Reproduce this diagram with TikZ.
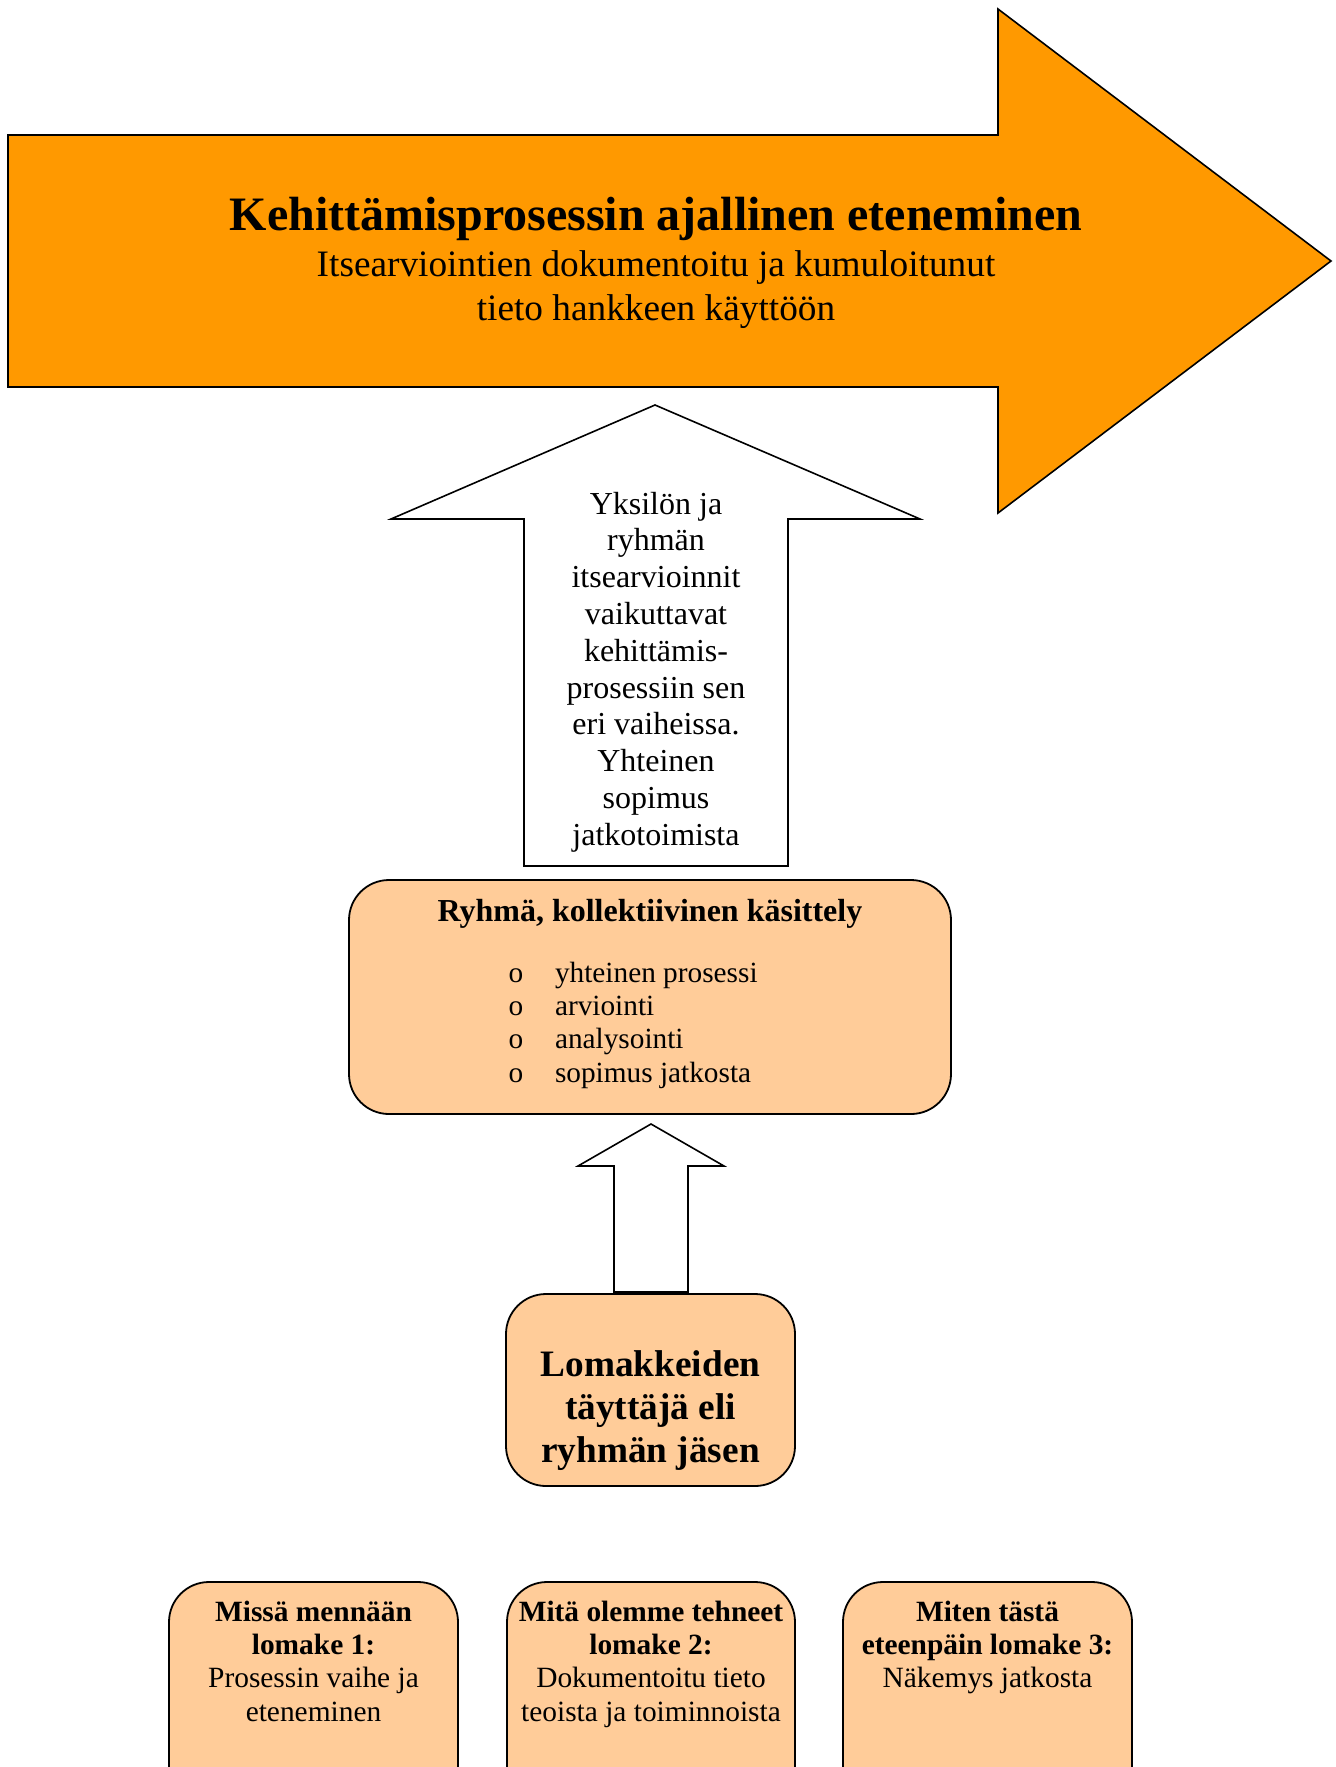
\documentclass[tikz,border=0pt]{standalone}
\usepackage{fontspec}
\setmainfont{Liberation Serif}
\definecolor{arroworange}{RGB}{255,153,0}
\definecolor{cardorange}{RGB}{255,204,153}

\begin{document}
\begin{tikzpicture}[x=0.5pt,y=-0.5pt,
  every node/.style={inner sep=0pt, outer sep=0pt},
  txt/.style={anchor=base},
  blockarrow/.style={draw=black, line width=0.8pt, line join=miter},
  card/.style={draw=black, line width=0.9pt, fill=cardorange, rounded corners=20pt},
  headfont/.style={font=\fontsize{24}{28}\selectfont\bfseries},
  subfont/.style={font=\fontsize{18.65}{22}\selectfont},
  upfont/.style={font=\fontsize{16}{18.4}\selectfont},
  groupfont/.style={font=\fontsize{16}{18.4}\selectfont\bfseries},
  listfont/.style={font=\fontsize{14.65}{16.7}\selectfont},
  memberfont/.style={font=\fontsize{18.65}{21.5}\selectfont\bfseries},
  formbold/.style={font=\fontsize{14.7}{16.8}\selectfont\bfseries},
  formtext/.style={font=\fontsize{14.7}{16.8}\selectfont},
]
\useasboundingbox (0,0) rectangle (1335,1767);
\clip (0,0) rectangle (1335,1767);

% time line arrow across the top
\draw[blockarrow, fill=arroworange]
  (8,135) -- (998,135) -- (998,9) -- (1331,261) -- (998,513) -- (998,387) -- (8,387) -- cycle;
\node[txt, headfont] (head) at (656,230) {Kehittämisprosessin ajallinen eteneminen};
\node[txt, subfont] (sub1) at (656,276) {Itsearviointien dokumentoitu ja kumuloitunut};
\node[txt, subfont] (sub2) at (656,320) {tieto hankkeen käyttöön};

% group box and filler box
\node[card, minimum width=301pt, minimum height=117pt] (group) at (650,997) {};
\node[card, minimum width=144.5pt, minimum height=96pt] (member) at (650.5,1390) {};

% large upward arrow from the group box
\draw[blockarrow, fill=white]
  (524,866) -- (524,519) -- (391,519) -- (655,405) -- (920,519) -- (788,519) -- (788,866) -- cycle;
\foreach \t [count=\i] in {Yksilön ja, ryhmän, itsearvioinnit, vaikuttavat, kehittämis-,
    prosessiin sen, eri vaiheissa., Yhteinen, sopimus, jatkotoimista}
  \node[txt, upfont] (up\i) at (656,{514+36.8*(\i-1)}) {\t};

% small upward arrow from the filler to the group
\draw[blockarrow, fill=white]
  (614,1292) -- (614,1166) -- (578,1166) -- (651,1124) -- (724,1166) -- (688,1166) -- (688,1292) -- cycle;

% group box contents
\node[txt, groupfont] (grouptitle) at (650,921) {Ryhmä, kollektiivinen käsittely};
\foreach \t [count=\i] in {yhteinen prosessi, arviointi, analysointi, sopimus jatkosta} {
  \node[txt, listfont] (dot\i) at (516,{982+33.4*(\i-1)}) {o};
  \node[txt, listfont, anchor=base west] (item\i) at (555,{982+33.4*(\i-1)}) {\t};
}

% filler box contents
\node[txt, memberfont] (mem1) at (650.5,1376) {Lomakkeiden};
\node[txt, memberfont] (mem2) at (650.5,1419) {täyttäjä eli};
\node[txt, memberfont] (mem3) at (650.5,1462) {ryhmän jäsen};

% the three forms
\node[card, minimum width=144.5pt, minimum height=120pt] (form1) at (313.5,1702) {};
\node[card, minimum width=144pt, minimum height=120pt] (form2) at (651,1702) {};
\node[card, minimum width=144.5pt, minimum height=120pt] (form3) at (987.5,1702) {};

\node[txt, formbold] (f1a) at (313.5,1621) {Missä mennään};
\node[txt, formbold] (f1b) at (313.5,1654) {lomake 1:};
\node[txt, formtext] (f1c) at (313.5,1687) {Prosessin vaihe ja};
\node[txt, formtext] (f1d) at (313.5,1721) {eteneminen};

\node[txt, formbold] (f2a) at (651,1621) {Mitä olemme tehneet};
\node[txt, formbold] (f2b) at (651,1654) {lomake 2:};
\node[txt, formtext] (f2c) at (651,1687) {Dokumentoitu tieto};
\node[txt, formtext] (f2d) at (651,1721) {teoista ja toiminnoista};

\node[txt, formbold] (f3a) at (987.5,1621) {Miten tästä};
\node[txt, formbold] (f3b) at (987.5,1654) {eteenpäin lomake 3:};
\node[txt, formtext] (f3c) at (987.5,1687) {Näkemys jatkosta};
\end{tikzpicture}
\end{document}
